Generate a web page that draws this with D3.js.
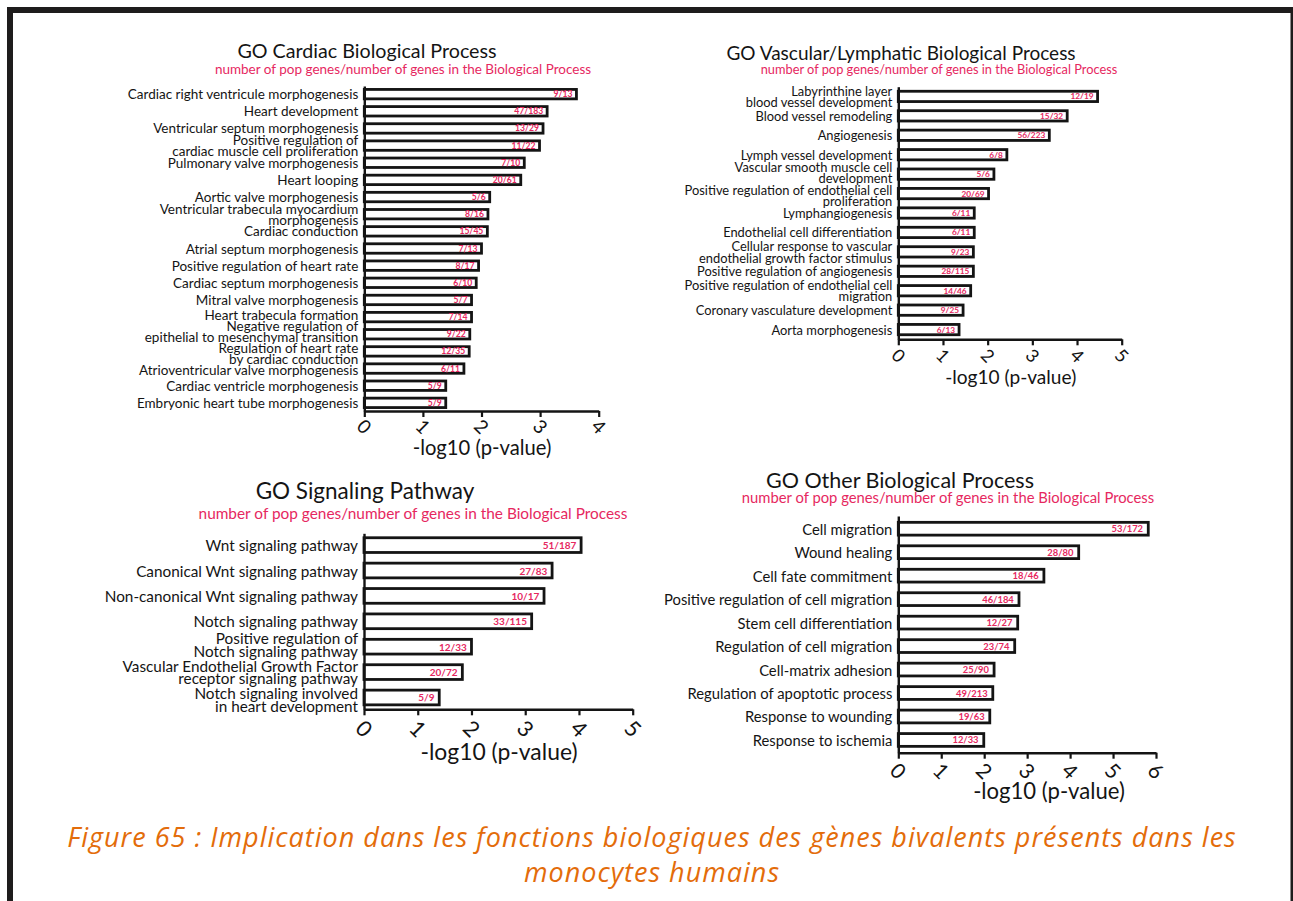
<!DOCTYPE html>
<html>
<head>
<meta charset="utf-8">
<script src="https://cdn.jsdelivr.net/npm/d3@7"></script>
<style>
  html, body { margin: 0; padding: 0; background: #fff; }
  svg { display: block; }
</style>
</head>
<body>
<svg id="fig" width="1293" height="901"></svg>
<script>
// ---- GO Cardiac Biological Process ----
const cardiacTerms = [
  "Cardiac right ventricule morphogenesis",
  "Heart development",
  "Ventricular septum morphogenesis",
  "Positive regulation of\ncardiac muscle cell proliferation",
  "Pulmonary valve morphogenesis",
  "Heart looping",
  "Aortic valve morphogenesis",
  "Ventricular trabecula myocardium\nmorphogenesis",
  "Cardiac conduction",
  "Atrial septum morphogenesis",
  "Positive regulation of heart rate",
  "Cardiac septum morphogenesis",
  "Mitral valve morphogenesis",
  "Heart trabecula formation",
  "Negative regulation of\nepithelial to mesenchymal transition",
  "Regulation of heart rate\nby cardiac conduction",
  "Atrioventricular valve morphogenesis",
  "Cardiac ventricle morphogenesis",
  "Embryonic heart tube morphogenesis"
];
const cardiacScores = [3.62, 3.12, 3.05, 2.99, 2.73, 2.67, 2.14, 2.11, 2.10, 2.00,
                       1.95, 1.91, 1.83, 1.83, 1.80, 1.79, 1.70, 1.39, 1.39];
const cardiacCounts = ["9/13", "47/183", "13/29", "11/22", "7/10", "20/61", "5/6", "8/16",
                       "15/45", "7/13", "8/17", "6/10", "5/7", "7/14", "9/22", "12/35",
                       "6/11", "5/9", "5/9"];
const cardiacTicks = [0, 1, 2, 3, 4];

// ---- GO Vascular/Lymphatic Biological Process ----
const vascularTerms = [
  "Labyrinthine layer\nblood vessel development",
  "Blood vessel remodeling",
  "Angiogenesis",
  "Lymph vessel development",
  "Vascular smooth muscle cell\ndevelopment",
  "Positive regulation of endothelial cell\nproliferation",
  "Lymphangiogenesis",
  "Endothelial cell differentiation",
  "Cellular response to vascular\nendothelial growth factor stimulus",
  "Positive regulation of angiogenesis",
  "Positive regulation of endothelial cell\nmigration",
  "Coronary vasculature development",
  "Aorta morphogenesis"
];
const vascularScores = [4.46, 3.78, 3.38, 2.43, 2.14, 2.02, 1.70, 1.70, 1.68, 1.68, 1.62, 1.45, 1.36];
const vascularCounts = ["12/19", "15/32", "56/223", "6/8", "5/6", "20/69", "6/11", "6/11",
                        "9/23", "28/115", "14/46", "9/25", "6/13"];
const vascularTicks = [0, 1, 2, 3, 4, 5];

// ---- GO Signaling Pathway ----
const signalingTerms = [
  "Wnt signaling pathway",
  "Canonical Wnt signaling pathway",
  "Non-canonical Wnt signaling pathway",
  "Notch signaling pathway",
  "Positive regulation of\nNotch signaling pathway",
  "Vascular Endothelial Growth Factor\nreceptor signaling pathway",
  "Notch signaling involved\nin heart development"
];
const signalingScores = [4.04, 3.50, 3.35, 3.12, 2.00, 1.83, 1.40];
const signalingCounts = ["51/187", "27/83", "10/17", "33/115", "12/33", "20/72", "5/9"];
const signalingTicks = [0, 1, 2, 3, 4, 5];

// ---- GO Other Biological Process ----
const otherTerms = [
  "Cell migration",
  "Wound healing",
  "Cell fate commitment",
  "Positive regulation of cell migration",
  "Stem cell differentiation",
  "Regulation of cell migration",
  "Cell-matrix adhesion",
  "Regulation of apoptotic process",
  "Response to wounding",
  "Response to ischemia"
];
const otherScores = [5.82, 4.20, 3.39, 2.81, 2.78, 2.71, 2.23, 2.20, 2.13, 1.99];
const otherCounts = ["53/172", "28/80", "18/46", "46/184", "12/27", "23/74", "25/90",
                     "49/213", "19/63", "12/33"];
const otherTicks = [0, 1, 2, 3, 4, 5, 6];

// shared texts
const countsNote = "number of pop genes/number of genes in the Biological Process";
const axisTitle = "-log10 (p-value)";
const captionLines = [
  "Figure 65 : Implication dans les fonctions biologiques des gènes bivalents présents dans les",
  "monocytes humains"
];

// ---- layout & style ----
const FONT = "Lato, 'Open Sans', 'DejaVu Sans', sans-serif";
const INK = "#141414";
const PINK = "#e6285f";
const ORANGE = "#e36c0a";

const panels = [
  { title: "GO Cardiac Biological Process", terms: cardiacTerms, scores: cardiacScores,
    counts: cardiacCounts, ticks: cardiacTicks,
    x0: 364.3, x1: 598.7, top: 86, bottom: 411, padIn: 0.45, padOut: 0.2,
    titleX: 367, titleY: 58, titleSize: 19.7, noteX: 403, noteY: 73.5, noteSize: 13.5,
    labelSize: 13.5, lineGap: 11, labelGap: 11, countSize: 8.6, countInset: 4,
    tickFont: 19, tickDy: 15, axTitleX: 482, axTitleY: 455, axTitleSize: 20.2 },
  { title: "GO Vascular/Lymphatic Biological Process", terms: vascularTerms, scores: vascularScores,
    counts: vascularCounts, ticks: vascularTicks,
    x0: 898.3, x1: 1121.7, top: 86.7, bottom: 339.3, padIn: 0.47, padOut: 0.235,
    titleX: 901, titleY: 60, titleSize: 19, noteX: 939, noteY: 73.5, noteSize: 12.8,
    labelSize: 12.9, lineGap: 11.5, labelGap: 11.5, countSize: 8.3, countInset: 4,
    tickFont: 18, tickDy: 16, axTitleX: 1010.7, axTitleY: 383.5, axTitleSize: 19.1 },
  { title: "GO Signaling Pathway", terms: signalingTerms, scores: signalingScores,
    counts: signalingCounts, ticks: signalingTicks,
    x0: 364, x1: 632.7, top: 533.3, bottom: 709.3, padIn: 0.42, padOut: 0.175,
    titleX: 365, titleY: 499, titleSize: 22.5, noteX: 413, noteY: 519, noteSize: 15.4,
    labelSize: 15.3, lineGap: 12.7, labelGap: 15, countSize: 10, countInset: 4.7,
    tickFont: 22, tickDy: 19, axTitleX: 499, axTitleY: 759.5, axTitleSize: 22.9 },
  { title: "GO Other Biological Process", terms: otherTerms, scores: otherScores,
    counts: otherCounts, ticks: otherTicks,
    x0: 898.3, x1: 1156, top: 516, bottom: 752.7, padIn: 0.455, padOut: 0.27,
    titleX: 900, titleY: 488, titleSize: 21.5, noteX: 948, noteY: 502.5, noteSize: 14.8,
    labelSize: 14.8, lineGap: 13, labelGap: 13, countSize: 9.4, countInset: 5.2,
    tickFont: 21, tickDy: 17.5, axTitleX: 1049, axTitleY: 798.5, axTitleSize: 22.1 }
];

const svg = d3.select("#fig").attr("font-family", FONT);

// page frame (left, top and right rules)
const frame = svg.append("g").attr("fill", "#1e1c1c");
frame.append("rect").attr("x", 7).attr("y", 7).attr("width", 6).attr("height", 894);
frame.append("rect").attr("x", 7).attr("y", 7).attr("width", 1286).attr("height", 6);
frame.append("rect").attr("x", 1290.5).attr("y", 7).attr("width", 2.5).attr("height", 894);

panels.forEach(p => {
  const g = svg.append("g");

  const x = d3.scaleLinear().domain([0, d3.max(p.ticks)]).range([p.x0, p.x1]);
  const y = d3.scaleBand().domain(p.terms).range([p.top, p.bottom])
    .paddingInner(p.padIn).paddingOuter(p.padOut);
  const mid = d => y(d) + y.bandwidth() / 2;

  // titles
  g.append("text").attr("x", p.titleX).attr("y", p.titleY)
    .attr("text-anchor", "middle").attr("font-size", p.titleSize).attr("fill", INK)
    .text(p.title);
  g.append("text").attr("x", p.noteX).attr("y", p.noteY)
    .attr("text-anchor", "middle").attr("font-size", p.noteSize).attr("fill", PINK)
    .text(countsNote);

  // bars
  g.append("g").selectAll("rect").data(p.terms).join("rect")
    .attr("x", x(0))
    .attr("y", d => y(d))
    .attr("width", (d, i) => x(p.scores[i]) - x(0))
    .attr("height", y.bandwidth())
    .attr("fill", "#fff").attr("stroke", INK).attr("stroke-width", 2.8);

  // gene counts inside the bar ends
  g.append("g").selectAll("text").data(p.terms).join("text")
    .attr("x", (d, i) => x(p.scores[i]) - p.countInset)
    .attr("y", d => mid(d))
    .attr("text-anchor", "end").attr("dominant-baseline", "central")
    .attr("font-size", p.countSize).attr("font-weight", 700).attr("fill", PINK)
    .text((d, i) => p.counts[i]);

  // line positions of the category labels; wrapped labels are nudged apart
  // from their neighbours so that the lines never collide
  const linePos = p.terms.map(d => {
    const n = d.split("\n").length;
    return d3.range(n).map(k => mid(d) + (k - (n - 1) / 2) * p.lineGap);
  });
  for (let pass = 0; pass < 30; pass++) {
    for (let i = 0; i < linePos.length - 1; i++) {
      const a = linePos[i], b = linePos[i + 1];
      const gap = b[0] - a[a.length - 1];
      if (gap < p.labelGap - 0.01) {
        const s = (p.labelGap - gap) / 2;
        for (let k = 0; k < a.length; k++) a[k] -= s;
        for (let k = 0; k < b.length; k++) b[k] += s;
      }
    }
  }

  // category axis
  const ya = g.append("g").attr("transform", `translate(${x(0)},0)`)
    .call(d3.axisLeft(y).tickSize(0).tickSizeOuter(0).tickPadding(6));
  ya.attr("font-family", null).attr("font-size", null);
  ya.select(".domain").attr("stroke", INK).attr("stroke-width", 2.4);
  ya.selectAll(".tick text").each(function (d, i) {
    const lines = d.split("\n");
    const t = d3.select(this);
    t.text(null).attr("dy", null).attr("x", -6)
      .attr("font-size", p.labelSize).attr("fill", INK)
      .attr("dominant-baseline", "central");
    lines.forEach((ln, k) => {
      t.append("tspan").attr("x", -6)
        .attr("y", linePos[i][k] - mid(d))
        .text(ln);
    });
  });

  // value axis, with numbers turned 45 degrees
  const xa = g.append("g").attr("transform", `translate(0,${p.bottom})`)
    .call(d3.axisBottom(x).tickValues(p.ticks).tickSize(6).tickSizeOuter(0)
      .tickFormat(d3.format("d")));
  xa.attr("font-family", null).attr("font-size", null);
  xa.select(".domain").attr("stroke", INK).attr("stroke-width", 2.6);
  xa.selectAll(".tick line").attr("stroke", INK).attr("stroke-width", 2.2);
  xa.selectAll(".tick text")
    .attr("y", null).attr("dy", null)
    .attr("transform", `translate(0,${p.tickDy}) rotate(45)`)
    .attr("text-anchor", "middle").attr("dominant-baseline", "central")
    .attr("font-size", p.tickFont).attr("fill", INK);

  g.append("text").attr("x", p.axTitleX).attr("y", p.axTitleY)
    .attr("text-anchor", "middle").attr("font-size", p.axTitleSize).attr("fill", INK)
    .text(axisTitle);
});

// figure caption
const cap = svg.append("g").attr("font-family", "'Open Sans', Lato, sans-serif")
  .attr("font-style", "italic").attr("fill", ORANGE)
  .attr("font-size", 27).attr("letter-spacing", 1).attr("text-anchor", "middle");
cap.append("text").attr("x", 652).attr("y", 847).text(captionLines[0]);
cap.append("text").attr("x", 652).attr("y", 882).text(captionLines[1]);
</script>
</body>
</html>
